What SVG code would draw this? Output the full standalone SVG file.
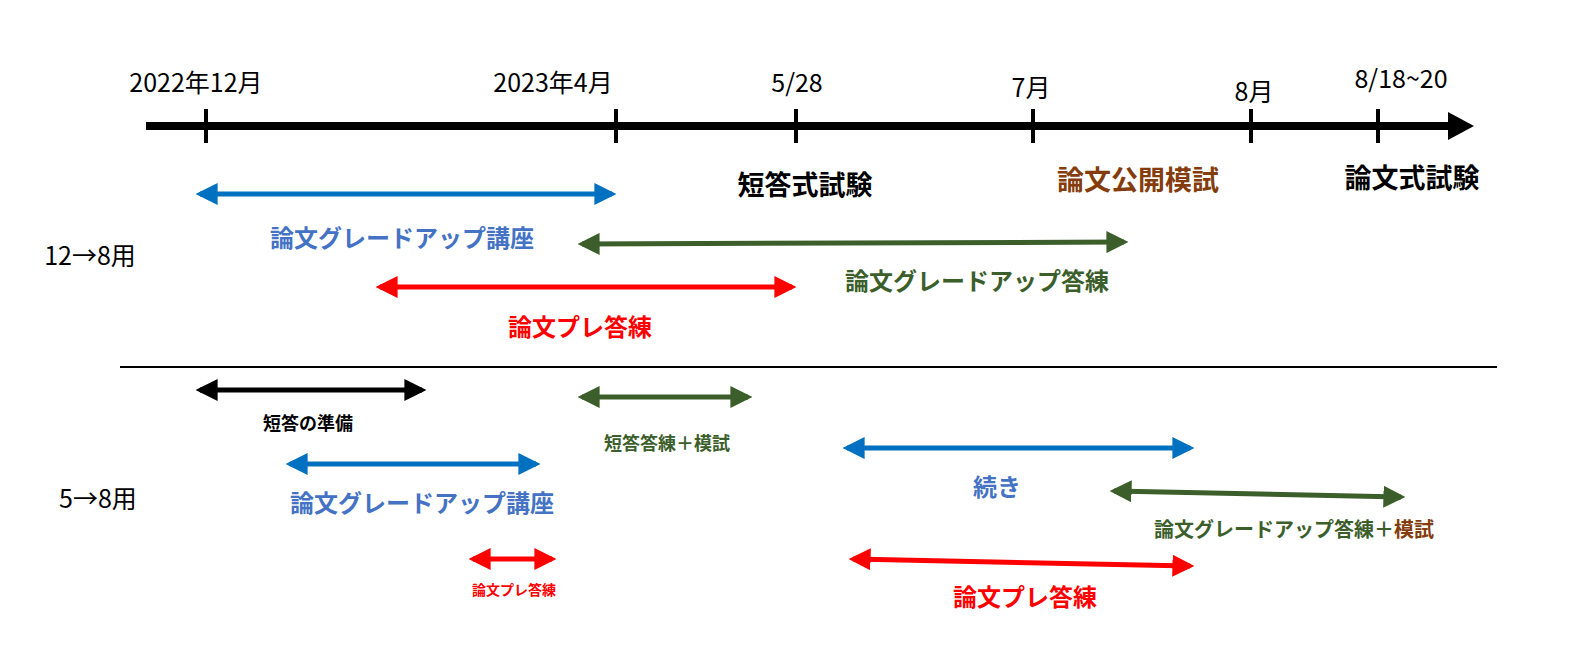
<svg xmlns="http://www.w3.org/2000/svg" width="1574" height="656" viewBox="0 0 1574 656">
<style>
text{font-family:"Noto Sans CJK JP","Noto Sans",sans-serif;text-anchor:middle}
.d{font-size:25px;fill:#000}
.b{font-weight:bold}
.tk{stroke:#000;stroke-width:4}
.ar{stroke-width:5;fill:none}
</style>
<defs>
<marker id="ab" viewBox="0 0 10 10" refX="8" refY="5" markerWidth="4.4" markerHeight="4.4" orient="auto-start-reverse" markerUnits="strokeWidth"><path d="M0,0L10,5L0,10z" fill="#0070C0"/></marker>
<marker id="ag" viewBox="0 0 10 10" refX="8" refY="5" markerWidth="4.4" markerHeight="4.4" orient="auto-start-reverse" markerUnits="strokeWidth"><path d="M0,0L10,5L0,10z" fill="#3B5E2B"/></marker>
<marker id="ar" viewBox="0 0 10 10" refX="8" refY="5" markerWidth="4.4" markerHeight="4.4" orient="auto-start-reverse" markerUnits="strokeWidth"><path d="M0,0L10,5L0,10z" fill="#FF0000"/></marker>
<marker id="ak" viewBox="0 0 10 10" refX="8" refY="5" markerWidth="4.4" markerHeight="4.4" orient="auto-start-reverse" markerUnits="strokeWidth"><path d="M0,0L10,5L0,10z" fill="#000"/></marker>
</defs>
<g id="axis">
<line x1="146" y1="126" x2="1450" y2="126" stroke="#000" stroke-width="8"/>
<path d="M1448,112L1474,126L1448,140z" fill="#000"/>
<line class="tk" x1="206" y1="109" x2="206" y2="143"/>
<line class="tk" x1="616" y1="109" x2="616" y2="143"/>
<line class="tk" x1="796" y1="109" x2="796" y2="143"/>
<line class="tk" x1="1033" y1="109" x2="1033" y2="143"/>
<line class="tk" x1="1251" y1="109" x2="1251" y2="143"/>
<line class="tk" x1="1378" y1="109" x2="1378" y2="143"/>
<text class="d" x="196" y="92">2022年12月</text>
<text class="d" x="553" y="92">2023年4月</text>
<text class="d" x="797" y="92">5/28</text>
<text class="d" x="1031" y="97">7月</text>
<text class="d" x="1254" y="101">8月</text>
<text class="d" x="1401" y="88">8/18~20</text>
<text class="b" x="805" y="195" font-size="27">短答式試験</text>
<text class="b" x="1138" y="190" font-size="27" fill="#843C0C">論文公開模試</text>
<text class="b" x="1412" y="188" font-size="27">論文式試験</text>
</g>
<g id="connectors">
<line class="ar" x1="200" y1="194" x2="612" y2="194" stroke="#0070C0" marker-start="url(#ab)" marker-end="url(#ab)"/>
<line class="ar" x1="582" y1="244" x2="1124" y2="242" stroke="#3B5E2B" marker-start="url(#ag)" marker-end="url(#ag)"/>
<line class="ar" x1="380" y1="287" x2="792" y2="287" stroke="#FF0000" marker-start="url(#ar)" marker-end="url(#ar)"/>
<line x1="120" y1="367" x2="1497" y2="367" stroke="#000" stroke-width="2"/>
<line class="ar" x1="200" y1="390" x2="422" y2="390" stroke="#000" marker-start="url(#ak)" marker-end="url(#ak)"/>
<line class="ar" x1="582" y1="397" x2="748" y2="397" stroke="#3B5E2B" marker-start="url(#ag)" marker-end="url(#ag)"/>
<line class="ar" x1="290" y1="464" x2="536" y2="464" stroke="#0070C0" marker-start="url(#ab)" marker-end="url(#ab)"/>
<line class="ar" x1="847" y1="448" x2="1190" y2="448" stroke="#0070C0" marker-start="url(#ab)" marker-end="url(#ab)"/>
<line class="ar" x1="1114" y1="491" x2="1401" y2="497" stroke="#3B5E2B" marker-start="url(#ag)" marker-end="url(#ag)"/>
<line class="ar" x1="473" y1="559" x2="552" y2="559" stroke="#FF0000" marker-start="url(#ar)" marker-end="url(#ar)"/>
<line class="ar" x1="853" y1="559" x2="1190" y2="566" stroke="#FF0000" marker-start="url(#ar)" marker-end="url(#ar)"/>
</g>
<g id="labels">
<text class="b" x="402" y="247" font-size="24" fill="#4472C4">論文グレードアップ講座</text>
<text x="90" y="265" font-size="25" fill="#000">12→8用</text>
<text class="b" x="977" y="290" font-size="24" fill="#3B5E2B">論文グレードアップ答練</text>
<text class="b" x="580" y="336" font-size="24" fill="#FF0000">論文プレ答練</text>
<text class="b" x="308" y="430" font-size="18">短答の準備</text>
<text class="b" x="667" y="450" font-size="18" fill="#3B5E2B">短答答練＋模試</text>
<text class="b" x="422" y="512" font-size="24" fill="#4472C4">論文グレードアップ講座</text>
<text x="98" y="508" font-size="25" fill="#000">5→8用</text>
<text class="b" x="997" y="496" font-size="24" fill="#4472C4">続き</text>
<text class="b" x="1294" y="537" font-size="20" fill="#3B5E2B">論文グレードアップ答練＋<tspan fill="#843C0C">模試</tspan></text>
<text class="b" x="514" y="595" font-size="14" fill="#FF0000">論文プレ答練</text>
<text class="b" x="1025" y="606" font-size="24" fill="#FF0000">論文プレ答練</text>
</g>
</svg>
